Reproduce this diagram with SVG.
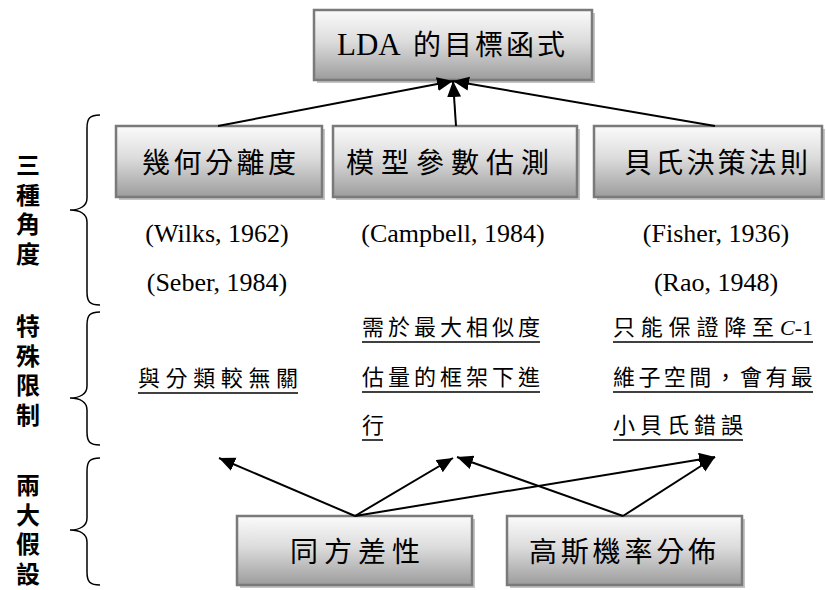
<svg xmlns="http://www.w3.org/2000/svg" width="826" height="590" viewBox="0 0 826 590">
  <defs>
    <linearGradient id="boxFill" x1="0" y1="0" x2="0" y2="1">
      <stop offset="0" stop-color="#fbfbfb"/>
      <stop offset="0.45" stop-color="#dcdcdc"/>
      <stop offset="1" stop-color="#9c9c9c"/>
    </linearGradient>
    <marker id="arrow" markerUnits="userSpaceOnUse" markerWidth="18" markerHeight="16" refX="16" refY="7" orient="auto">
      <path d="M0,0 L16,7 L0,14 Z" fill="#000"/>
    </marker>
  </defs>
  <style>
    .box { fill: url(#boxFill); stroke: #7a7a7a; stroke-width: 2.5; }
    .shadow { fill: #c4c4c4; }
    .lbl { font-family: "Liberation Serif", "Noto Sans CJK TC", serif; font-size: 28px; fill: #000; }
    .cite { font-family: "Liberation Serif", serif; font-size: 26px; fill: #000; text-anchor: middle; }
    .note { font-family: "Liberation Serif", "Noto Sans CJK TC", serif; font-size: 22px; fill: #000; }
    .side { font-family: "Noto Sans CJK TC", sans-serif; font-size: 24px; font-weight: bold; fill: #000; writing-mode: vertical-rl; letter-spacing: 5.5px; }
    .ul { stroke: #000; stroke-width: 1.5; }
    .brace { fill: none; stroke: #000; stroke-width: 1.5; }
    .conn { fill: none; stroke: #000; stroke-width: 2; marker-end: url(#arrow); }
  </style>

  <!-- side brackets and their vertical labels -->
  <g id="side-views">
    <path class="brace" d="M100,115 C90,115 87,118 87,128 L87,198 C87,206 80,210 70,210 C80,210 87,214 87,222 L87,292 C87,302 90,305 100,305"/>
    <text class="side" x="28" y="153">三種角度</text>
  </g>
  <g id="side-limits">
    <path class="brace" d="M100,312 C90,312 87,315 87,325 L87,386 C87,394 80,398 70,398 C80,398 87,402 87,410 L87,432 C87,442 90,445 100,445"/>
    <text class="side" x="28" y="314">特殊限制</text>
  </g>
  <g id="side-assumptions">
    <path class="brace" d="M100,458 C90,458 87,461 87,471 L87,518 C87,526 80,530 70,530 C80,530 87,534 87,542 L87,572 C87,582 90,585 100,585"/>
    <text class="side" x="28" y="473">兩大假設</text>
  </g>

  <!-- objective -->
  <g id="lda-objective">
    <rect class="shadow" x="317" y="13" width="278" height="70"/>
    <rect class="box" x="314" y="10" width="278" height="70"/>
    <text class="lbl" y="55"><tspan x="337" font-size="31">LDA</tspan><tspan x="413" letter-spacing="3">的目標函式</tspan></text>
  </g>

  <!-- three views -->
  <g id="geometric-separation">
    <rect class="shadow" x="119" y="129" width="206" height="71"/>
    <rect class="box" x="116" y="126" width="206" height="71"/>
    <text class="lbl" x="142" y="173" letter-spacing="3.5">幾何分離度</text>
  </g>
  <g id="parameter-estimation">
    <rect class="shadow" x="336" y="129" width="244" height="71"/>
    <rect class="box" x="333" y="126" width="244" height="71"/>
    <text class="lbl" x="346" y="173" letter-spacing="7">模型參數估測</text>
  </g>
  <g id="bayes-rule">
    <rect class="shadow" x="597" y="129" width="228" height="71"/>
    <rect class="box" x="594" y="126" width="228" height="71"/>
    <text class="lbl" x="624" y="173" letter-spacing="3.2">貝氏決策法則</text>
  </g>

  <!-- references -->
  <g id="references">
    <text class="cite" x="217" y="242">(Wilks, 1962)</text>
    <text class="cite" x="217" y="291">(Seber, 1984)</text>
    <text class="cite" x="453" y="242">(Campbell, 1984)</text>
    <text class="cite" x="716" y="242">(Fisher, 1936)</text>
    <text class="cite" x="716" y="291">(Rao, 1948)</text>
  </g>

  <!-- limitations -->
  <g id="limitations">
    <text class="note" x="138" y="386" letter-spacing="5.6">與分類較無關</text>
    <line class="ul" x1="138" y1="393" x2="298" y2="393"/>

    <text class="note" x="362" y="335" letter-spacing="4">需於最大相似度</text>
    <line class="ul" x1="362" y1="342" x2="540" y2="342"/>
    <text class="note" x="362" y="385" letter-spacing="4">估量的框架下進</text>
    <line class="ul" x1="362" y1="392" x2="540" y2="392"/>
    <text class="note" x="362" y="433">行</text>
    <line class="ul" x1="362" y1="440" x2="383" y2="440"/>

    <text class="note" x="613" y="335" letter-spacing="5.8">只能保證降至</text>
    <text class="note" x="780" y="335"><tspan font-style="italic">C</tspan>-1</text>
    <line class="ul" x1="613" y1="342" x2="813" y2="342"/>
    <text class="note" x="613" y="385" letter-spacing="3.4">維子空間，會有最</text>
    <line class="ul" x1="613" y1="392" x2="813" y2="392"/>
    <text class="note" x="613" y="433" letter-spacing="5">小貝氏錯誤</text>
    <line class="ul" x1="613" y1="440" x2="743" y2="440"/>
  </g>

  <!-- assumptions -->
  <g id="equal-covariance">
    <rect class="shadow" x="240" y="519" width="235" height="69"/>
    <rect class="box" x="237" y="516" width="235" height="69"/>
    <text class="lbl" x="290" y="562" letter-spacing="6">同方差性</text>
  </g>
  <g id="gaussian">
    <rect class="shadow" x="510" y="519" width="235" height="69"/>
    <rect class="box" x="507" y="516" width="235" height="69"/>
    <text class="lbl" x="529" y="562" letter-spacing="3.8">高斯機率分佈</text>
  </g>

  <!-- connectors -->
  <g id="connectors">
    <path class="conn" d="M218,126 L453,81"/>
    <path class="conn" d="M456,126 L453,81"/>
    <path class="conn" d="M715,126 L453,81"/>
    <path class="conn" d="M355,516 L219,458"/>
    <path class="conn" d="M355,516 L453,458"/>
    <path class="conn" d="M355,516 L715,457"/>
    <path class="conn" d="M623,516 L457,457"/>
    <path class="conn" d="M623,516 L715,457"/>
  </g>
</svg>
